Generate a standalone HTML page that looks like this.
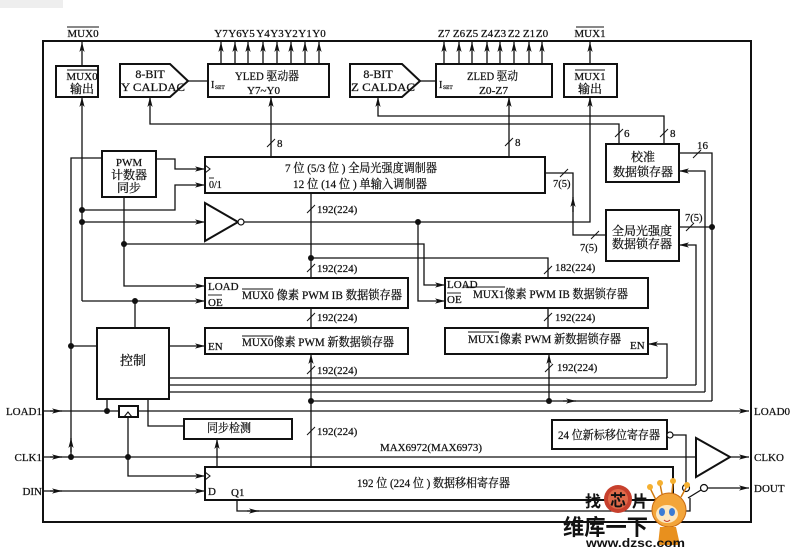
<!DOCTYPE html>
<html><head><meta charset="utf-8"><style>
html,body{margin:0;padding:0;background:#fff;}
svg{display:block;}
text{font-family:"Liberation Serif","Noto Serif CJK SC",serif;fill:#111;}
.t text{stroke:#111;stroke-width:0.25;}
</style></head><body>
<svg width="800" height="551" viewBox="0 0 800 551" xmlns="http://www.w3.org/2000/svg">
<defs>
<marker id="a" markerWidth="10" markerHeight="6" refX="10" refY="3" orient="auto" markerUnits="userSpaceOnUse"><path d="M0,0.4 L10,3 L0,5.6 L2.5,3 z" fill="#111"/></marker>
</defs>
<rect width="800" height="551" fill="#fff"/>
<rect x="0" y="0" width="63" height="8" fill="#eeeeee"/>

<!-- connector lines -->
<g fill="none" stroke="#111" stroke-width="1.3">
<path d="M82,66 L82,42" marker-end="url(#a)"/>
<path d="M221,64 L221,42" marker-end="url(#a)"/>
<path d="M235,64 L235,42" marker-end="url(#a)"/>
<path d="M248,64 L248,42" marker-end="url(#a)"/>
<path d="M263,64 L263,42" marker-end="url(#a)"/>
<path d="M277,64 L277,42" marker-end="url(#a)"/>
<path d="M291,64 L291,42" marker-end="url(#a)"/>
<path d="M305,64 L305,42" marker-end="url(#a)"/>
<path d="M319,64 L319,42" marker-end="url(#a)"/>
<path d="M444,64 L444,42" marker-end="url(#a)"/>
<path d="M459,64 L459,42" marker-end="url(#a)"/>
<path d="M472,64 L472,42" marker-end="url(#a)"/>
<path d="M487,64 L487,42" marker-end="url(#a)"/>
<path d="M500,64 L500,42" marker-end="url(#a)"/>
<path d="M514,64 L514,42" marker-end="url(#a)"/>
<path d="M529,64 L529,42" marker-end="url(#a)"/>
<path d="M542,64 L542,42" marker-end="url(#a)"/>
<path d="M590,64 L590,42" marker-end="url(#a)"/>

<path d="M82,301 L82,97" marker-end="url(#a)"/>
<path d="M188,81 L208,81"/>
<path d="M420,81 L436,81"/>
<path d="M619,144 L619,124 L150,124 L150,97" marker-end="url(#a)"/>
<path d="M664,144 L664,116 L378,116 L378,97" marker-end="url(#a)"/>
<path d="M271,157 L271,97" marker-end="url(#a)"/>
<path d="M509,157 L509,97" marker-end="url(#a)"/>

<path d="M156,159 L175,159 L175,169 L205,169" marker-end="url(#a)"/>
<path d="M82,210 L175,210 L175,185 L205,185" marker-end="url(#a)"/>
<path d="M82,222 L205,222" marker-end="url(#a)"/>
<path d="M244,222 L590,222 L590,97" marker-end="url(#a)"/>
<path d="M418,222 L418,301 L445,301" marker-end="url(#a)"/>
<path d="M124,197 L124,286 L205,286" marker-end="url(#a)"/>
<path d="M124,244 L424,244 L424,285 L445,285" marker-end="url(#a)"/>

<path d="M311,193 L311,278"/>
<path d="M311,258 L548,258 L548,278"/>
<path d="M311,308 L311,328"/>
<path d="M548,308 L548,328"/>
<path d="M311,467 L311,354" marker-end="url(#a)"/>
<path d="M311,401 L712,401"/>
<path d="M563,401 L576,401" marker-end="url(#a)"/>
<path d="M549,401 L549,354" marker-end="url(#a)"/>

<path d="M545,173 L573,173 L573,235 L606,235"/>
<path d="M573,212 L573,197" marker-end="url(#a)"/>
<path d="M679,227 L712,227"/>
<path d="M679,153 L712,153 L712,401"/>
<path d="M705,392 L705,171 L679,171" marker-end="url(#a)"/>
<path d="M696,385 L696,245 L679,245" marker-end="url(#a)"/>
<path d="M667,378 L667,344 L648,344" marker-end="url(#a)"/>
<path d="M169,378 L667,378"/>
<path d="M169,385 L696,385"/>
<path d="M169,392 L705,392"/>

<path d="M135,328 L135,301"/>
<path d="M82,301 L205,301" marker-end="url(#a)"/>
<path d="M102,158 L71,158 L71,457"/>
<path d="M71,452 L71,438" marker-end="url(#a)"/>
<path d="M71,346 L97,346"/>
<path d="M169,346 L205,346" marker-end="url(#a)"/>

<path d="M43,411 L749,411" marker-end="url(#a)"/>
<path d="M50,411 L62,411" marker-end="url(#a)"/>
<path d="M107,411 L107,399"/>
<path d="M128,417 L128,476 L205,476" marker-end="url(#a)"/>
<path d="M148,399 L148,426 L184,426"/>
<path d="M217,467 L217,439" marker-end="url(#a)"/>
<path d="M43,457 L696,457"/>
<path d="M50,457 L62,457" marker-end="url(#a)"/>
<path d="M730,457 L749,457" marker-end="url(#a)"/>
<path d="M43,491 L205,491" marker-end="url(#a)"/>
<path d="M50,491 L62,491" marker-end="url(#a)"/>
<path d="M237,500 L237,511 L690,511 L690,498"/>
<path d="M247,511 L259,511" marker-end="url(#a)"/>
<path d="M673,435 L686,435 L686,484"/>
<path d="M708,488 L749,488" marker-end="url(#a)"/>
<path d="M688,498 L701,490"/>
</g>

<!-- bus slashes -->
<g stroke="#111" stroke-width="1">
<path d="M267,147 L275,139"/>
<path d="M505,146 L513,138"/>
<path d="M615,137 L623,129"/>
<path d="M660,137 L668,129"/>
<path d="M307,213 L315,205"/>
<path d="M307,272 L315,264"/>
<path d="M307,321 L315,313"/>
<path d="M307,374 L315,366"/>
<path d="M307,435 L315,427"/>
<path d="M544,274 L552,266"/>
<path d="M544,321 L552,313"/>
<path d="M545,372 L553,364"/>
<path d="M560,177 L568,169"/>
<path d="M591,239 L599,231"/>
<path d="M686,231 L694,223"/>
<path d="M693,158 L701,150"/>
</g>

<!-- dots -->
<g fill="#111">
<circle cx="82" cy="210" r="3"/>
<circle cx="82" cy="222" r="3"/>
<circle cx="418" cy="222" r="3"/>
<circle cx="124" cy="244" r="3"/>
<circle cx="311" cy="258" r="3"/>
<circle cx="135" cy="301" r="3"/>
<circle cx="71" cy="346" r="3"/>
<circle cx="311" cy="401" r="3"/>
<circle cx="549" cy="401" r="3"/>
<circle cx="712" cy="227" r="3"/>
<circle cx="107" cy="411" r="3"/>
<circle cx="71" cy="457" r="3"/>
<circle cx="128" cy="457" r="3"/>
</g>

<!-- boxes -->
<g fill="none" stroke="#111" stroke-width="2">
<rect x="43" y="41" width="708" height="481"/>
<rect x="56" y="66" width="42" height="31"/>
<path d="M120,64 L170,64 L188,81 L170,97 L120,97 Z"/>
<rect x="208" y="64" width="121" height="33"/>
<path d="M350,64 L402,64 L420,81 L402,97 L350,97 Z"/>
<rect x="436" y="64" width="116" height="33"/>
<rect x="564" y="64" width="53" height="33"/>
<rect x="102" y="151" width="54" height="46"/>
<rect x="205" y="157" width="340" height="36"/>
<path d="M205,203 L205,241 L238,222 Z"/>
<rect x="606" y="144" width="73" height="38"/>
<rect x="606" y="210" width="73" height="51"/>
<rect x="205" y="278" width="203" height="30"/>
<rect x="205" y="328" width="203" height="26"/>
<rect x="445" y="278" width="203" height="30"/>
<rect x="445" y="328" width="203" height="26"/>
<rect x="97" y="328" width="72" height="71"/>
<rect x="119" y="406" width="19" height="11" fill="#fff"/>
<rect x="184" y="419" width="108" height="20"/>
<rect x="552" y="420" width="115" height="29"/>
<rect x="205" y="467" width="468" height="33"/>
<path d="M696,438 L696,477 L730,457 Z"/>
</g>
<g fill="#fff" stroke="#111" stroke-width="1.2">
<circle cx="241" cy="222" r="3"/>
<circle cx="670" cy="435" r="3"/>
<circle cx="686" cy="488" r="3.5"/>
<circle cx="704" cy="488" r="3.5"/>
</g>
<g fill="none" stroke="#111" stroke-width="1.1">
<path d="M205,165 L210,169 L205,173"/>
<path d="M205,472 L210,476 L205,480"/>
<path d="M124,417 L128,412 L132,417"/>
</g>

<!-- overlines -->
<g stroke="#111" stroke-width="0.9">
<path d="M67,27 L99,27"/>
<path d="M576,27 L604,27"/>
<path d="M67,70 L97,70"/>
<path d="M575,70 L605,70"/>
<path d="M209,178 L214,178"/>
<path d="M208,295 L222,295"/>
<path d="M242,289 L273,289"/>
<path d="M242,336 L273,336"/>
<path d="M463,287 L505,287"/>
<path d="M447,293 L461,293"/>
<path d="M468,332 L499,332"/>
</g>

<!-- texts -->
<g font-size="11" class="t">
<text x="83" y="37" text-anchor="middle">MUX0</text>
<text x="590" y="37" text-anchor="middle">MUX1</text>
<text x="221" y="37" text-anchor="middle">Y7</text>
<text x="235" y="37" text-anchor="middle">Y6</text>
<text x="248" y="37" text-anchor="middle">Y5</text>
<text x="263" y="37" text-anchor="middle">Y4</text>
<text x="277" y="37" text-anchor="middle">Y3</text>
<text x="291" y="37" text-anchor="middle">Y2</text>
<text x="305" y="37" text-anchor="middle">Y1</text>
<text x="319" y="37" text-anchor="middle">Y0</text>
<text x="444" y="37" text-anchor="middle">Z7</text>
<text x="459" y="37" text-anchor="middle">Z6</text>
<text x="472" y="37" text-anchor="middle">Z5</text>
<text x="487" y="37" text-anchor="middle">Z4</text>
<text x="500" y="37" text-anchor="middle">Z3</text>
<text x="514" y="37" text-anchor="middle">Z2</text>
<text x="529" y="37" text-anchor="middle">Z1</text>
<text x="542" y="37" text-anchor="middle">Z0</text>

<text x="82" y="80" text-anchor="middle">MUX0</text>
<text x="82" y="93" text-anchor="middle" font-size="12">输出</text>
<text x="590" y="80" text-anchor="middle">MUX1</text>
<text x="590" y="93" text-anchor="middle" font-size="12">输出</text>

<text x="150" y="78" text-anchor="middle" font-size="12">8-BIT</text>
<text x="121" y="91" font-size="12" textLength="64" lengthAdjust="spacingAndGlyphs">Y CALDAC</text>
<text x="378" y="78" text-anchor="middle" font-size="12">8-BIT</text>
<text x="351" y="91" font-size="12" textLength="64" lengthAdjust="spacingAndGlyphs">Z CALDAC</text>

<text x="211" y="88" font-size="10">I</text>
<text x="215" y="89" font-size="5.5">SET</text>
<text x="235" y="80" font-size="12" textLength="64" lengthAdjust="spacingAndGlyphs">YLED 驱动器</text>
<text x="247" y="94" textLength="33" lengthAdjust="spacingAndGlyphs">Y7~Y0</text>
<text x="439" y="88" font-size="10">I</text>
<text x="443" y="89" font-size="5.5">SET</text>
<text x="467" y="80" font-size="12" textLength="51" lengthAdjust="spacingAndGlyphs">ZLED 驱动</text>
<text x="479" y="94" textLength="29" lengthAdjust="spacingAndGlyphs">Z0-Z7</text>

<text x="277" y="147">8</text>
<text x="515" y="146">8</text>
<text x="624" y="137">6</text>
<text x="670" y="137">8</text>
<text x="697" y="149">16</text>

<text x="129" y="166" text-anchor="middle">PWM</text>
<text x="129" y="179" text-anchor="middle" font-size="12">计数器</text>
<text x="129" y="192" text-anchor="middle" font-size="12">同步</text>

<text x="285" y="172" font-size="12" textLength="152" lengthAdjust="spacingAndGlyphs">7 位 (5/3 位 ) 全局光强度调制器</text>
<text x="293" y="188" font-size="12" textLength="134" lengthAdjust="spacingAndGlyphs">12 位 (14 位 ) 单输入调制器</text>
<text x="209" y="188" font-size="10">0/1</text>

<text x="553" y="187" font-size="10.5">7(5)</text>
<text x="580" y="251" font-size="10.5">7(5)</text>
<text x="685" y="221" font-size="10.5">7(5)</text>

<text x="643" y="161" text-anchor="middle" font-size="12">校准</text>
<text x="643" y="176" text-anchor="middle" font-size="12">数据锁存器</text>
<text x="642" y="235" text-anchor="middle" font-size="12">全局光强度</text>
<text x="642" y="248" text-anchor="middle" font-size="12">数据锁存器</text>

<text x="317" y="213">192(224)</text>
<text x="317" y="272">192(224)</text>
<text x="317" y="321">192(224)</text>
<text x="317" y="374">192(224)</text>
<text x="317" y="435">192(224)</text>
<text x="555" y="271">182(224)</text>
<text x="555" y="321">192(224)</text>
<text x="557" y="371">192(224)</text>

<text x="208" y="290">LOAD</text>
<text x="208" y="306">OE</text>
<text x="242" y="299" font-size="12" textLength="160" lengthAdjust="spacingAndGlyphs">MUX0 像素 PWM IB 数据锁存器</text>
<text x="208" y="350">EN</text>
<text x="242" y="346" font-size="12" textLength="152" lengthAdjust="spacingAndGlyphs">MUX0像素 PWM 新数据锁存器</text>

<text x="447" y="288">LOAD</text>
<text x="447" y="303">OE</text>
<text x="473" y="298" font-size="12" textLength="155" lengthAdjust="spacingAndGlyphs">MUX1像素 PWM IB 数据锁存器</text>
<text x="468" y="343" font-size="12" textLength="153" lengthAdjust="spacingAndGlyphs">MUX1像素 PWM 新数据锁存器</text>
<text x="630" y="349">EN</text>

<text x="133" y="365" text-anchor="middle" font-size="13">控制</text>
<text x="207" y="432" font-size="12" textLength="44" lengthAdjust="spacingAndGlyphs">同步检测</text>
<text x="558" y="439" font-size="12" textLength="102" lengthAdjust="spacingAndGlyphs">24 位新标移位寄存器</text>
<text x="380" y="451" textLength="102" lengthAdjust="spacingAndGlyphs">MAX6972(MAX6973)</text>
<text x="357" y="487" font-size="12" textLength="153" lengthAdjust="spacingAndGlyphs">192 位 (224 位 ) 数据移相寄存器</text>
<text x="208" y="495">D</text>
<text x="231" y="496">Q1</text>

<text x="42" y="415" text-anchor="end">LOAD1</text>
<text x="42" y="461" text-anchor="end">CLK1</text>
<text x="42" y="495" text-anchor="end">DIN</text>
<text x="754" y="415">LOAD0</text>
<text x="754" y="461">CLKO</text>
<text x="754" y="492">DOUT</text>
</g>

<!-- watermark -->
<g>
<circle cx="618" cy="499" r="14" fill="#c7402d"/>
<circle cx="618" cy="499" r="10" fill="#e06a4a"/>
<text x="585" y="507" font-size="16" font-weight="bold" fill="#c9a27a" style="font-family:'Noto Sans CJK SC',sans-serif">找</text>
<text x="610" y="506" font-size="16" font-weight="bold" fill="#fff" style="font-family:'Noto Sans CJK SC',sans-serif">芯</text>
<text x="632" y="507" font-size="16" font-weight="bold" fill="#c9a27a" style="font-family:'Noto Sans CJK SC',sans-serif">片</text>
<g stroke="#d07a10" stroke-width="1.5" fill="none">
<path d="M656,500 L650,488"/><path d="M662,494 L660,484"/><path d="M672,493 L673,482"/><path d="M681,497 L687,486"/>
</g>
<g fill="#f5b030">
<circle cx="650" cy="487" r="3"/><circle cx="660" cy="483" r="3"/><circle cx="673" cy="481" r="3"/><circle cx="687" cy="485" r="3"/>
</g>
<circle cx="669" cy="510" r="17" fill="#f3a53a" stroke="#c86a10" stroke-width="1"/>
<ellipse cx="667" cy="514" rx="11" ry="9" fill="#fde7bf"/>
<ellipse cx="662" cy="512" rx="3" ry="4" fill="#3a7bd5"/>
<ellipse cx="672" cy="512" rx="3" ry="4" fill="#3a7bd5"/>
<path d="M664,520 Q667,523 670,520" stroke="#c0392b" fill="none" stroke-width="1"/>
<path d="M660,527 L676,527 L680,545 L658,545 Z" fill="#e8901e"/>
<text x="563" y="535" font-size="22" font-weight="bold" fill="#f26522" textLength="85" lengthAdjust="spacingAndGlyphs" style="font-family:'Noto Sans CJK SC',sans-serif">维库一下</text>
<text x="586" y="547" font-size="12" font-weight="bold" fill="#333" textLength="99" lengthAdjust="spacingAndGlyphs" style="font-family:'Liberation Sans',sans-serif">www.dzsc.com</text>
</g>
</svg>
</body></html>
